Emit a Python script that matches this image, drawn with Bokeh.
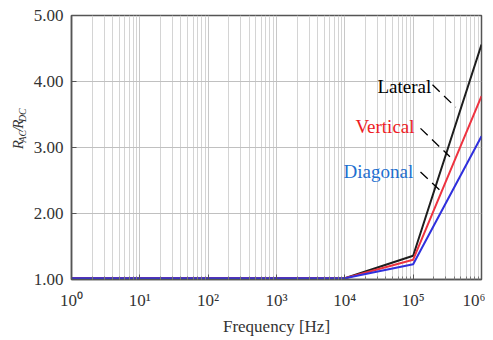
import math
from bokeh.plotting import figure
from bokeh.layouts import row
from bokeh.models import Label, FixedTicker, Range1d
from bokeh.embed import file_html
from bokeh.resources import INLINE

# ---- data ----
freq = [1, 10, 100, 1000, 10000, 100000, 1000000]
lateral = [1.02, 1.02, 1.02, 1.02, 1.02, 1.36, 4.56]
vertical = [1.02, 1.02, 1.02, 1.02, 1.02, 1.30, 3.78]
diagonal = [1.02, 1.02, 1.02, 1.02, 1.02, 1.23, 3.17]

x_ticks = [1, 10, 100, 1000, 10000, 100000, 1000000]
x_tick_labels = ["10⁰", "10¹", "10²", "10³", "10⁴", "10⁵", "10⁶"]
x_minor = [k * 10 ** d for d in range(6) for k in range(2, 10)]
y_ticks = [1, 2, 3, 4, 5]
y_tick_labels = ["1.00", "2.00", "3.00", "4.00", "5.00"]

series_names = ["Lateral", "Vertical", "Diagonal"]
series_colors = ["#1e1e1e", "#ee3340", "#3030dd"]
label_colors = ["#000000", "#ee1c24", "#1e6fd0"]
label_x = [30000, 14300, 9600]
label_y = [3.92, 3.32, 2.63]
leader_x = [[192000, 420000], [128000, 345000], [128000, 272000]]
leader_y = [[3.95, 3.61], [3.29, 2.86], [2.63, 2.31]]

# y-axis title pieces: text, font size, centre x, centre y (pixels in the side strip, from bottom)
ylabel_parts = [("R", 15, 17, 172.6), ("AC", 10, 21.7, 183.6), ("/", 15, 17, 192.1),
                ("R", 15, 17, 198.8), ("DC", 10, 21.7, 210.4)]

FONT = "Liberation Serif"
STRIP_W = 30
H = 338

# side strip carrying the composed y-axis title
side = figure(width=STRIP_W, height=H, x_range=Range1d(0, STRIP_W), y_range=Range1d(0, H),
              x_axis_type=None, y_axis_type=None,
              output_backend="svg", toolbar_location=None,
              min_border=0, min_border_left=0, min_border_right=0,
              min_border_top=0, min_border_bottom=0)
side.grid.visible = False
side.outline_line_color = None
side.background_fill_color = "white"
for txt, fs, xx, yy in ylabel_parts:
    side.add_layout(Label(x=xx, y=yy, text=txt, angle=math.pi / 2, text_font=FONT,
                          text_font_style="italic", text_font_size=f"{fs}px",
                          text_color="#333333", text_baseline="middle", text_align="center"))

p = figure(width=485 - STRIP_W, height=H, x_axis_type="log",
           x_range=Range1d(1, 1000000), y_range=Range1d(1, 5),
           output_backend="svg", toolbar_location=None,
           min_border_left=71 - STRIP_W, min_border_right=4,
           min_border_top=15, min_border_bottom=58)

p.background_fill_color = "white"
p.outline_line_color = "#555555"
p.outline_line_width = 1.5

p.xaxis.ticker = FixedTicker(ticks=x_ticks, minor_ticks=x_minor)
p.xaxis.major_label_overrides = {t: l for t, l in zip(x_ticks, x_tick_labels)}
p.yaxis.ticker = FixedTicker(ticks=y_ticks)
p.yaxis.major_label_overrides = {t: l for t, l in zip(y_ticks, y_tick_labels)}

for ax in (p.xaxis[0], p.yaxis[0]):
    ax.axis_line_color = "#555555"
    ax.axis_line_width = 1.5
    ax.major_tick_line_color = "#555555"
    ax.minor_tick_line_color = "#777777"
    ax.major_tick_in = 5
    ax.major_tick_out = 0
    ax.minor_tick_in = 3
    ax.minor_tick_out = 0
    ax.major_label_text_font = FONT
    ax.major_label_text_font_size = "17px"
    ax.major_label_text_color = "#333333"
    ax.major_label_standoff = 8

p.xaxis.major_label_standoff = 11
p.xaxis.axis_label = "Frequency [Hz]"
p.xaxis.axis_label_text_font = FONT
p.xaxis.axis_label_text_font_style = "normal"
p.xaxis.axis_label_text_font_size = "17px"
p.xaxis.axis_label_text_color = "#333333"
p.xaxis.axis_label_standoff = 4
p.yaxis.minor_tick_line_color = None

p.xgrid.grid_line_color = "#c8c8c8"
p.xgrid.minor_grid_line_color = "#d4d4d4"
p.ygrid.grid_line_color = "#c0c0c0"

for vals, col in zip([lateral, vertical, diagonal], series_colors):
    p.line(freq, vals, line_color=col, line_width=2)

for name, col, lx, ly, xs, ys in zip(series_names, label_colors, label_x, label_y, leader_x, leader_y):
    p.add_layout(Label(x=lx, y=ly, text=name, text_color=col, text_font=FONT,
                       text_font_size="19px", text_baseline="middle", text_align="left"))
    p.line(xs, ys, line_color="black", line_width=1.3, line_dash="10 6")

layout = row(side, p, spacing=0)
open("out.html", "w").write(file_html(layout, INLINE))
